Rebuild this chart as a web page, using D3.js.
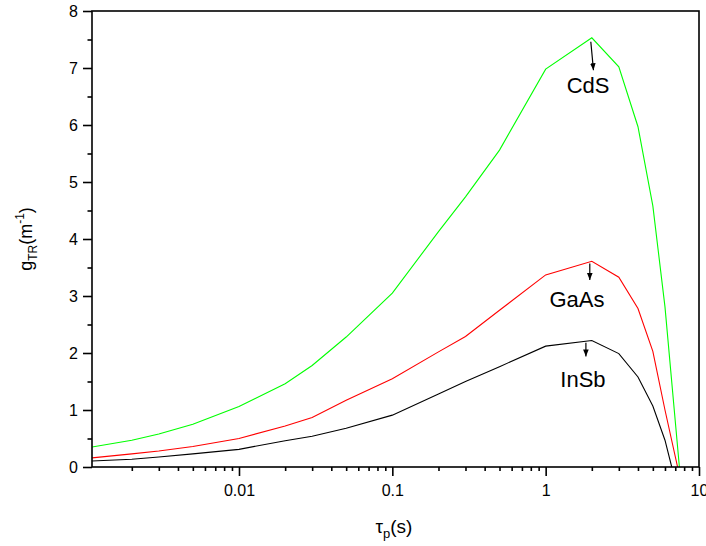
<!DOCTYPE html>
<html>
<head>
<meta charset="utf-8">
<script src="https://cdn.jsdelivr.net/npm/d3@7"></script>
<style>
  body { margin: 0; background: #fff; }
  svg { font-family: Arial, "Liberation Sans", sans-serif; }
</style>
</head>
<body>
<div id="chart"></div>
<script>
// tau_p (s) sample points, shared by all three curves
const tau = [0.0011, 0.002, 0.003, 0.005, 0.01, 0.02, 0.03, 0.05, 0.1, 0.2, 0.3, 0.5, 1, 2, 3, 4, 5, 6];

// g_TR (m^-1) for each material
const cdsValues  = [0.35, 0.47, 0.58, 0.75, 1.06, 1.46, 1.78, 2.28, 3.05, 4.13, 4.74, 5.56, 6.98, 7.53, 7.02, 5.97, 4.58, 2.81];
const gaasValues = [0.16, 0.23, 0.28, 0.36, 0.50, 0.72, 0.87, 1.17, 1.55, 2.02, 2.29, 2.75, 3.37, 3.61, 3.33, 2.78, 2.03, 1.0];
const insbValues = [0.105, 0.135, 0.175, 0.23, 0.31, 0.46, 0.54, 0.68, 0.91, 1.28, 1.50, 1.76, 2.12, 2.22, 1.99, 1.58, 1.07, 0.47];

// tau where each curve drops to zero
const zeroCross = [7.45, 7.25, 6.64];

const seriesNames = ["CdS", "GaAs", "InSb"];
const seriesColors = ["#00ff00", "#ff0000", "#000000"];

const yTicks = [0, 1, 2, 3, 4, 5, 6, 7, 8];
const xTicks = [0.01, 0.1, 1, 10];
const xTickLabels = ["0.01", "0.1", "1", "10"];

// annotation arrows in data units: [tau, g]
const arrows = [
    { from: [1.97, 7.46], to: [2.05, 6.96], label: [1.89, 6.56] },
    { from: [1.94, 3.57], to: [1.94, 3.28], label: [1.60, 2.81] },
    { from: [1.83, 2.18], to: [1.83, 1.94], label: [1.75, 1.41] }
];

const width = 706, height = 546;
const margin = { top: 11, right: 7, bottom: 79, left: 92 };
const innerW = width - margin.left - margin.right;
const innerH = height - margin.top - margin.bottom;

const svg = d3.select("#chart").append("svg")
    .attr("width", width)
    .attr("height", height);

const x = d3.scaleLog().domain([0.0011, 10]).range([0, innerW]);
const y = d3.scaleLinear().domain([0, 8]).range([innerH, 0]);

const g = svg.append("g").attr("transform", `translate(${margin.left},${margin.top})`);

svg.append("defs").append("clipPath").attr("id", "plotClip")
    .append("rect").attr("width", innerW).attr("height", innerH);

svg.select("defs").append("marker")
    .attr("id", "arrowHead")
    .attr("viewBox", "0 0 10 10")
    .attr("refX", 10).attr("refY", 5)
    .attr("markerWidth", 7).attr("markerHeight", 7)
    .attr("markerUnits", "userSpaceOnUse")
    .attr("orient", "auto")
    .append("path").attr("d", "M0,1 L10,5 L0,9 Z").attr("fill", "#000");

// Curves
const allValues = [cdsValues, gaasValues, insbValues];
const line = d3.line().x(d => x(d[0])).y(d => y(d[1]));

const curves = g.append("g").attr("clip-path", "url(#plotClip)");
allValues.forEach((vals, i) => {
    const pts = tau.map((t, k) => [t, vals[k]]);
    pts.push([zeroCross[i], 0]);
    curves.append("path")
        .datum(pts)
        .attr("fill", "none")
        .attr("stroke", seriesColors[i])
        .attr("stroke-width", 1.1)
        .attr("d", line);
});

// Frame
g.append("rect")
    .attr("width", innerW).attr("height", innerH)
    .attr("fill", "none").attr("stroke", "#000").attr("stroke-width", 1.6);

// X axis (major + minor)
const xMinor = [];
[0.001, 0.01, 0.1, 1].forEach(dec => {
    for (let m = 2; m <= 9; m++) {
        const v = dec * m;
        if (v >= 0.0011 && v <= 10) xMinor.push(v);
    }
});

g.append("g")
    .attr("transform", `translate(0,${innerH})`)
    .call(d3.axisBottom(x).tickValues(xMinor).tickSize(4).tickFormat(""))
    .call(s => s.select(".domain").remove())
    .call(s => s.selectAll("line").attr("stroke-width", 1.6));

const xAxis = g.append("g")
    .attr("transform", `translate(0,${innerH})`)
    .call(d3.axisBottom(x).tickValues(xTicks).tickSize(9).tickPadding(9)
        .tickFormat((d, i) => xTickLabels[i]));
xAxis.select(".domain").remove();
xAxis.selectAll("line").attr("stroke-width", 1.6);
xAxis.selectAll("text").attr("font-size", 16).attr("fill", "#000")
    .attr("font-family", "Arial, 'Liberation Sans', sans-serif");

// Y axis (major + minor)
const yMinor = d3.range(0.5, 8, 1);
g.append("g")
    .call(d3.axisLeft(y).tickValues(yMinor).tickSize(4.5).tickFormat(""))
    .call(s => s.select(".domain").remove())
    .call(s => s.selectAll("line").attr("stroke-width", 1.6));

const yAxis = g.append("g")
    .call(d3.axisLeft(y).tickValues(yTicks).tickSize(9).tickPadding(5).tickFormat(d3.format("d")));
yAxis.select(".domain").remove();
yAxis.selectAll("line").attr("stroke-width", 1.6);
yAxis.selectAll("text").attr("font-size", 16).attr("fill", "#000")
    .attr("font-family", "Arial, 'Liberation Sans', sans-serif");

// Axis titles
const xTitle = svg.append("text")
    .attr("x", 394).attr("y", 533)
    .attr("text-anchor", "middle")
    .attr("font-size", 19);
xTitle.append("tspan").text("\u03c4");
xTitle.append("tspan").attr("font-size", 13).attr("dy", 5).text("p");
xTitle.append("tspan").attr("dy", -5).text("(s)");

const yTitle = svg.append("text")
    .attr("transform", `translate(32,${margin.top + innerH / 2}) rotate(-90)`)
    .attr("text-anchor", "middle")
    .attr("font-size", 18);
yTitle.append("tspan").text("g");
yTitle.append("tspan").attr("font-size", 12).attr("dy", 5).text("TR");
yTitle.append("tspan").attr("dy", -5).text("(m");
yTitle.append("tspan").attr("font-size", 12).attr("dy", -8).text("-1");
yTitle.append("tspan").attr("dy", 8).text(")");

// Annotations
arrows.forEach((a, i) => {
    g.append("line")
        .attr("x1", x(a.from[0])).attr("y1", y(a.from[1]))
        .attr("x2", x(a.to[0])).attr("y2", y(a.to[1]))
        .attr("stroke", "#000").attr("stroke-width", 1.2)
        .attr("marker-end", "url(#arrowHead)");
    g.append("text")
        .attr("x", x(a.label[0])).attr("y", y(a.label[1]))
        .attr("text-anchor", "middle")
        .attr("font-size", 22)
        .text(seriesNames[i]);
});
</script>
</body>
</html>
